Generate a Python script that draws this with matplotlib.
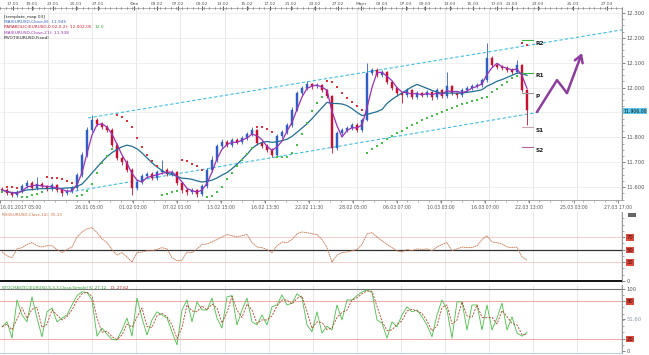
import numpy as np
import pandas as pd
import matplotlib
matplotlib.use("Agg")
import matplotlib.pyplot as plt

# ---------------- data ----------------
closes = [11.588, 11.576, 11.568, 11.580, 11.604, 11.616, 11.596, 11.612, 11.604, 11.592,
          11.608, 11.588, 11.576, 11.584, 11.596, 11.648, 11.729, 11.829, 11.870, 11.853,
          11.841, 11.829, 11.769, 11.717, 11.701, 11.668, 11.596, 11.620, 11.644, 11.652,
          11.636, 11.660, 11.668, 11.652, 11.660, 11.616, 11.588, 11.580, 11.588, 11.572,
          11.604, 11.668, 11.709, 11.765, 11.781, 11.769, 11.789, 11.781, 11.797, 11.813,
          11.829, 11.777, 11.765, 11.749, 11.729, 11.805, 11.821, 11.849, 11.910, 11.978,
          11.998, 12.014, 12.006, 12.010, 11.990, 11.966, 11.757, 11.817, 11.829, 11.837,
          11.849, 11.829, 11.870, 12.059, 12.071, 12.051, 12.063, 12.022, 11.998, 11.978,
          11.970, 11.990, 11.962, 11.978, 11.970, 11.982, 11.962, 11.990, 11.966, 12.006,
          11.978, 11.970, 11.990, 11.998, 12.006, 12.010, 12.030, 12.119, 12.091, 12.083,
          12.079, 12.071, 12.063, 12.091, 11.990, 11.910]
highs = [11.600, 11.596, 11.584, 11.590, 11.614, 11.630, 11.624, 11.640, 11.620, 11.610,
         11.618, 11.614, 11.594, 11.592, 11.604, 11.656, 11.740, 11.840, 11.890, 11.878,
         11.862, 11.850, 11.836, 11.776, 11.724, 11.710, 11.676, 11.630, 11.652, 11.662,
         11.660, 11.668, 11.709, 11.676, 11.668, 11.666, 11.622, 11.596, 11.596, 11.594,
         11.612, 11.676, 11.725, 11.775, 11.792, 11.790, 11.798, 11.796, 11.806, 11.822,
         11.840, 11.834, 11.784, 11.772, 11.756, 11.812, 11.830, 11.858, 11.920, 11.988,
         12.008, 12.026, 12.020, 12.018, 12.016, 11.996, 11.972, 11.826, 11.838, 11.846,
         11.858, 11.856, 11.878, 12.099, 12.080, 12.078, 12.072, 12.068, 12.028, 12.004,
         11.984, 11.998, 11.996, 11.986, 11.984, 11.990, 11.988, 11.998, 11.996, 12.063,
         12.012, 11.984, 11.998, 12.006, 12.014, 12.018, 12.040, 12.179, 12.126, 12.098,
         12.090, 12.086, 12.078, 12.111, 12.096, 11.996]
lows = [11.580, 11.568, 11.560, 11.562, 11.576, 11.598, 11.588, 11.590, 11.596, 11.584,
        11.586, 11.580, 11.566, 11.570, 11.578, 11.590, 11.642, 11.722, 11.822, 11.845,
        11.834, 11.820, 11.760, 11.708, 11.690, 11.660, 11.568, 11.588, 11.612, 11.636,
        11.628, 11.630, 11.652, 11.644, 11.644, 11.608, 11.578, 11.570, 11.572, 11.562,
        11.566, 11.598, 11.660, 11.700, 11.756, 11.760, 11.762, 11.772, 11.774, 11.790,
        11.806, 11.770, 11.756, 11.740, 11.720, 11.722, 11.798, 11.814, 11.842, 11.904,
        11.970, 11.990, 11.996, 11.998, 11.982, 11.958, 11.737, 11.750, 11.808, 11.820,
        11.828, 11.820, 11.822, 11.864, 12.050, 12.044, 12.044, 12.014, 11.990, 11.968,
        11.940, 11.962, 11.954, 11.954, 11.962, 11.964, 11.952, 11.956, 11.958, 11.960,
        11.970, 11.960, 11.964, 11.984, 11.992, 12.000, 12.004, 12.024, 12.084, 12.076,
        12.070, 12.064, 12.056, 12.058, 11.982, 11.849]
first_open = 11.592

rsi_vals = [46, 40, 37, 51, 53, 58, 61, 56, 54, 56, 56, 50, 45, 50, 54, 70, 78, 83, 85, 77,
            67, 61, 50, 41, 45, 38, 30, 45, 46, 48, 48, 50, 53, 51, 37, 32, 33, 46, 45, 51,
            58, 59, 62, 66, 70, 74, 72, 70, 72, 74, 61, 54, 53, 50, 45, 56, 62, 61, 66, 75,
            78, 77, 75, 74, 66, 53, 30, 41, 45, 46, 48, 50, 58, 75, 77, 70, 64, 58, 53, 48,
            46, 50, 48, 51, 50, 51, 48, 54, 58, 61, 48, 51, 54, 53, 53, 56, 66, 72, 62, 61,
            59, 54, 53, 54, 38, 33]
stoch_k = [39, 47, 21, 82, 58, 47, 87, 53, 23, 63, 69, 47, 53, 58, 74, 89, 95, 94, 82, 24,
           37, 27, 19, 18, 34, 53, 24, 85, 53, 26, 50, 63, 58, 53, 31, 10, 66, 82, 47, 79,
           66, 66, 85, 53, 37, 87, 89, 42, 66, 85, 47, 42, 58, 42, 71, 74, 90, 74, 77, 92,
           85, 42, 31, 63, 29, 40, 34, 74, 50, 82, 82, 89, 95, 98, 94, 50, 45, 21, 47, 39,
           58, 71, 63, 66, 55, 42, 23, 58, 82, 66, 21, 79, 79, 34, 74, 74, 34, 74, 34, 53,
           77, 34, 55, 29, 24, 30]

bottom_labels = ["16.01.2017 05:00", "26.01 05:00", "01.02 03:00", "07.02 01:00", "13.02 15:00",
                 "16.02 13:30", "22.02 11:30", "28.02 05:00", "06.03 07:00", "10.03 03:00",
                 "16.03 07:00", "22.03 13:00", "25.03 03:00", "27.03 17:00"]
bottom_label_bars = [-0.4, 17.3, 26.1, 34.9, 43.8, 52.6, 61.4, 70.2, 79.0, 87.8, 96.6, 105.4, 114.3, 123.1]
top_labels = ["17.01", "19.01", "23.01", "25.01", "27.01", "Фев", "03.02", "07.02", "09.02",
              "13.02", "15.02", "17.02", "21.02", "23.02", "27.02", "Март", "03.03", "07.03",
              "09.03", "13.03", "15.03", "17.03", "21.03", "23.03", "25.03", "27.03"]
top_label_bars = [2.2, 6.0, 10.2, 14.8, 19.2, 26.4, 31.0, 35.2, 40.0, 44.2, 49.0, 53.6, 57.8,
                  62.6, 67.2, 71.8, 76.0, 80.8, 84.6, 89.6, 94.2, 99.0, 102.0, 107.2, 114.2, 121.0]
grid_bars = [0.4 + 8.82 * k for k in range(15)]

channel_x = [17.2, 124.0]
channel_upper = [11.878, 12.232]
channel_lower_x = [13.6, 107.6]
channel_lower = [11.580, 11.902]

pivot_names = ["R2", "R1", "P", "S1", "S2"]
pivot_levels = [12.191, 12.059, 11.978, 11.841, 11.761]
pivot_colors = ["#3cb043", "#3cb043", "#9a9a9a", "#c8a6b4", "#b0609a"]
pivot_start, pivot_end = 104.0, 106.2

arrow_x = [107.0, 111.0, 113.0, 116.0]
arrow_y = [11.902, 12.030, 11.978, 12.139]

last_price = 11.906

# ---------------- figure ----------------
W, H = 649, 355
fig = plt.figure(figsize=(W / 100, H / 100), dpi=100)
fig.patch.set_facecolor("white")


def rect(x0, y0, x1, y1):
    return [x0 / W, 1 - y1 / H, (x1 - x0) / W, (y1 - y0) / H]


ax = fig.add_axes(rect(0, 8, 622, 200))
ax_r = fig.add_axes(rect(0, 212, 622, 282))
ax_s = fig.add_axes(rect(0, 285, 622, 353))

XL = (-0.4, 124.0)
n = len(closes)
xs = np.arange(n)
opens = [first_open] + closes[:-1]
df = pd.DataFrame({"o": opens, "h": highs, "l": lows, "c": closes})

for a in (ax, ax_r, ax_s):
    a.set_xlim(*XL)
    a.set_facecolor("white")
    for g in grid_bars:
        a.axvline(g, color="#e3e3e3", lw=0.6, zorder=0)
    for s in ("left", "top"):
        a.spines[s].set_visible(False)
    a.spines["right"].set_color("#888888")
    a.spines["right"].set_linewidth(0.6)
    a.spines["bottom"].set_color("#999999")
    a.spines["bottom"].set_linewidth(0.6)
    a.yaxis.tick_right()
    a.tick_params(axis="y", labelsize=3.8, colors="#555555", length=2, width=0.5, pad=1.5)

# ---- main price panel ----
ax.set_ylim(11.548, 12.320)
for lv in np.arange(11.6, 12.31, 0.1):
    ax.axhline(lv, color="#ececec", lw=0.6, zorder=0)

up_col, dn_col = "#2f5fc4", "#c8102e"
cols = [up_col if c >= o else dn_col for o, c in zip(df.o, df.c)]
ax.vlines(xs, df.l, df.h, colors=cols, lw=0.6, zorder=3)
body = (df.c - df.o).values
body = np.where(np.abs(body) < 0.002, 0.002, body)
ax.bar(xs, body, bottom=df.o, width=0.55, color=cols, edgecolor=cols, lw=0.3, zorder=3)

ma_fast = df.c.rolling(3, min_periods=1).mean()
ma_slow = df.c.rolling(11, min_periods=1).mean()
ax.plot(xs, ma_slow, color="#1f6f95", lw=0.9, zorder=4)
ax.plot(xs, ma_fast, color="#9b30b8", lw=0.9, zorder=4)

# parabolic SAR
hi, lo = np.array(highs), np.array(lows)
sar = np.zeros(n)
bull_arr = np.zeros(n, bool)
bull, af, ep = True, 0.04, hi[0]
sar[0] = lo[0]
bull_arr[0] = True
for i in range(1, n):
    s = sar[i - 1] + af * (ep - sar[i - 1])
    if bull:
        s = min(s, lo[i - 1], lo[max(i - 2, 0)])
        if lo[i] < s:
            bull, s, ep, af = False, ep, lo[i], 0.04
        elif hi[i] > ep:
            ep, af = hi[i], min(af + 0.04, 0.3)
    else:
        s = max(s, hi[i - 1], hi[max(i - 2, 0)])
        if hi[i] > s:
            bull, s, ep, af = True, ep, hi[i], 0.04
        elif lo[i] < ep:
            ep, af = lo[i], min(af + 0.04, 0.3)
    sar[i] = s
    bull_arr[i] = bull
ax.scatter(xs[bull_arr], sar[bull_arr], s=0.8, color="#44c044", marker="s", lw=0, zorder=4)
ax.scatter(xs[~bull_arr], sar[~bull_arr], s=0.8, color="#e0303a", marker="s", lw=0, zorder=4)

# channel
ax.plot(channel_x, channel_upper, color="#3fbfe0", lw=0.8, ls=(0, (3, 2)), zorder=2)
ax.plot(channel_lower_x, channel_lower, color="#3fbfe0", lw=0.8, ls=(0, (3, 2)), zorder=2)

# pivots
for name, lv, c in zip(pivot_names, pivot_levels, pivot_colors):
    ax.plot([pivot_start, pivot_end], [lv, lv], color=c, lw=0.8, zorder=5)
    ax.text(pivot_end + 0.6, lv - 0.012, name, fontsize=4.2, color="#222222",
            fontweight="bold", va="center", ha="left", zorder=6)

# arrow
ax.plot(arrow_x[:-1], arrow_y[:-1], color="#8e3d9e", lw=1.8, solid_capstyle="round", zorder=6)
ax.annotate("", xy=(arrow_x[-1], arrow_y[-1]), xytext=(arrow_x[-2], arrow_y[-2]),
            arrowprops=dict(arrowstyle="->,head_length=0.5,head_width=0.3", lw=1.8,
                            color="#8e3d9e", shrinkA=0, shrinkB=0), zorder=6)

# right axis
yt = [11.6, 11.7, 11.8, 12.0, 12.1, 12.2, 12.3]
ax.set_yticks(yt)
ax.set_yticklabels([f"{v:.3f}" for v in yt])
ax.set_yticks(np.arange(11.55, 12.32, 0.025), minor=True)
ax.tick_params(axis="y", which="minor", length=1.2, width=0.4, colors="#666666")
ax.text(1.002, (last_price - 11.548) / (12.320 - 11.548), "11.906,00", transform=ax.transAxes,
        fontsize=3.3, color="#111111", va="center", ha="left",
        bbox=dict(boxstyle="square,pad=0.12", fc="#5bc8ec", ec="none"), clip_on=False)

# bottom date axis
ax.set_xticks(bottom_label_bars)
ax.set_xticklabels(bottom_labels)
ax.tick_params(axis="x", labelsize=3.3, colors="#555555", length=2, width=0.5, pad=1.5)
ax.get_xticklabels()[0].set_ha("left")
ax.set_xticks(np.arange(-0.4, 124, 2.2), minor=True)
ax.tick_params(axis="x", which="minor", length=1.2, width=0.4, colors="#777777")

# top date axis
top = ax.secondary_xaxis("top")
top.set_xticks(top_label_bars)
top.set_xticklabels(top_labels)
top.tick_params(axis="x", labelsize=3.2, colors="#555555", length=2.5, width=0.8,
                direction="inout", pad=0.5)
for t in top.xaxis.get_ticklines():
    t.set_color("#e0a020")
top.set_xticks(np.arange(-0.4, 124, 1.1), minor=True)
top.tick_params(axis="x", which="minor", length=1.2, width=0.4, direction="inout")
for t in top.xaxis.get_minorticklines():
    t.set_color("#555555")
top.spines["top"].set_color("#999999")
top.spines["top"].set_linewidth(0.5)

# legend texts
fs = 3.1
ax.text(0.006, 0.965, "[template_map 03]", transform=ax.transAxes, fontsize=fs, color="#222222", va="top")
ax.text(0.006, 0.937, "MA(EURUSD,Close,8): 11.945", transform=ax.transAxes, fontsize=fs, color="#2f5fc4", va="top")
red_t = ax.text(0.006, 0.909, "PARABOLIC(EURUSD,0.02,0.2): 12.002,05", transform=ax.transAxes,
                fontsize=fs, color="#d02030", va="top")
ax.annotate("12.0", xy=(1, 0), xycoords=red_t, xytext=(2, 0), textcoords="offset points",
            fontsize=fs, color="#30a030", va="bottom", ha="left")
ax.text(0.006, 0.881, "MA(EURUSD,Close,21): 11.938", transform=ax.transAxes, fontsize=fs, color="#9b30b8", va="top")
ax.text(0.006, 0.853, "PIVOT(EURUSD,Fixed)", transform=ax.transAxes, fontsize=fs, color="#222222", va="top")

# ---- RSI panel ----
ax_r.set_ylim(-2, 110)
ax_r.plot(xs, rsi_vals, color="#c87850", lw=0.6, ls=(0, (2, 0.6)), zorder=3)
ax_r.axhline(70, color="#f2c4c4", lw=0.6, zorder=1)
ax_r.axhline(30, color="#f2c4c4", lw=0.6, zorder=1)
ax_r.axhline(50, color="#333333", lw=0.9, zorder=2)
ax_r.axhline(0, color="#111111", lw=1.4, zorder=2)
ax_r.set_xticks([])
ax_r.set_yticks([0, 30, 50, 70])
ax_r.set_yticklabels(["0", "30", "50", "70"])
ax_r.set_yticks(np.arange(0, 101, 10), minor=True)
ax_r.tick_params(axis="y", which="minor", length=1.2, width=0.4, colors="#666666")
for lab in ax_r.get_yticklabels()[1:]:
    lab.set_bbox(dict(boxstyle="square,pad=0.15", fc="#e04a3c", ec="none"))
    lab.set_color("#3a0a0a")
ax_r.spines["bottom"].set_visible(False)
ax_r.text(0.004, 0.985, "RSI(EURUSD,Close,14): 35.13", transform=ax_r.transAxes, fontsize=3.0,
          color="#d07040", va="top")

# ---- Stochastic panel ----
ax_s.set_ylim(-3, 106)
ax_s.axhline(100, color="#777777", lw=0.8, zorder=1)
ax_s.axhline(80, color="#ee9a9a", lw=0.6, zorder=1)
ax_s.axhline(20, color="#ee9a9a", lw=0.6, zorder=1)
stoch_d = pd.Series(stoch_k).rolling(2, min_periods=1).mean()
ax_s.plot(xs, stoch_k, color="#46c046", lw=0.6, zorder=3)
ax_s.plot(xs, stoch_d, color="#b0402a", lw=0.6, ls=(0, (2.5, 1.5)), zorder=4)
ax_s.set_xticks([])
ax_s.set_yticks([0, 20, 51.6, 80, 100])
ax_s.set_yticklabels(["0", "20", "51,60", "80", "100"])
ax_s.set_yticks(np.arange(0, 101, 10), minor=True)
ax_s.tick_params(axis="y", which="minor", length=1.2, width=0.4, colors="#666666")
labs = ax_s.get_yticklabels()
for k in (1, 3):
    labs[k].set_bbox(dict(boxstyle="square,pad=0.15", fc="#e04a3c", ec="none"))
    labs[k].set_color("#3a0a0a")
labs[2].set_color("#8899aa")
ax_s.spines["bottom"].set_color("#a8c4d8")
st_t = ax_s.text(0.004, 0.985, "STOCHASTIC(EURUSD,5,3,3,Close,Simple) K: 27.12", transform=ax_s.transAxes,
                 fontsize=3.0, color="#30a030", va="top")
ax_s.annotate("D: 27.62", xy=(1, 0), xycoords=st_t, xytext=(3, 0), textcoords="offset points",
              fontsize=3.0, color="#d02020", va="bottom", ha="left")

# small icon box at right
fig.patches.append(plt.Rectangle((628 / W, 1 - 217 / H), 8 / W, 4 / H, transform=fig.transFigure,
                                 fc="#666666", ec="none"))

fig.savefig("out.png", dpi=100, facecolor="white")
